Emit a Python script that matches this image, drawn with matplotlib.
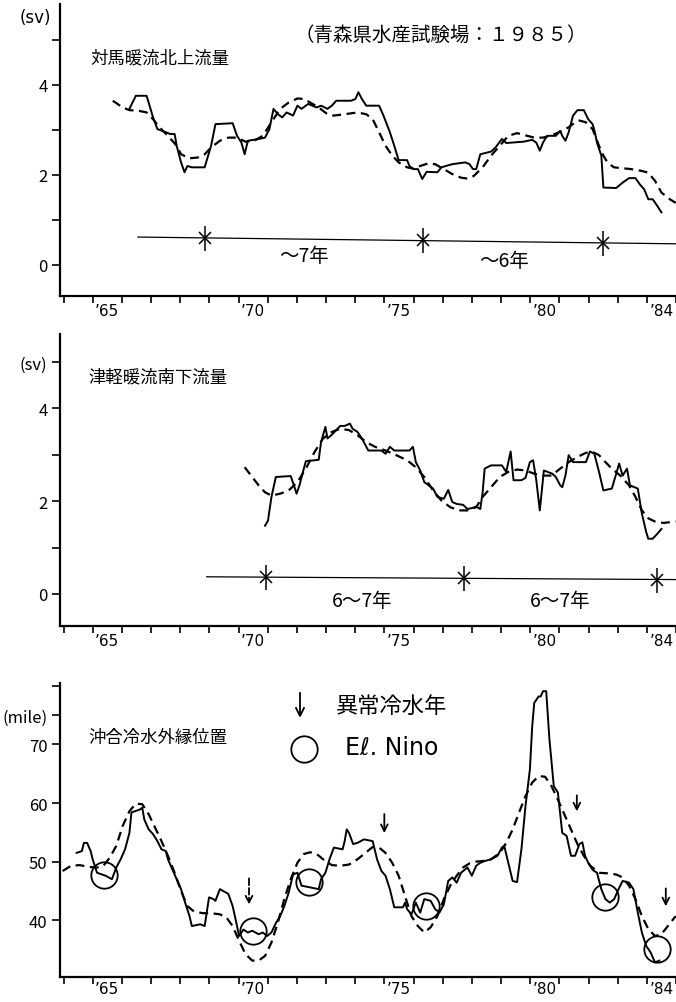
import matplotlib
matplotlib.use("Agg")
import matplotlib.pyplot as plt
from matplotlib.lines import Line2D

plt.rcParams['font.family'] = ['Noto Sans CJK JP', 'DejaVu Sans']

# ---- data (year, value) ----
# panel 1 : Tsushima warm current northward transport (sv)
tsu_year = [1966.26, 1966.48, 1966.85, 1967.07, 1967.22, 1967.51, 1967.66, 1967.81, 1967.88, 1968.03,
            1968.15, 1968.25, 1968.40, 1968.84, 1969.06, 1969.21, 1969.80, 1969.95, 1970.10, 1970.21,
            1970.32, 1970.69, 1970.91, 1971.06, 1971.20, 1971.35, 1971.50, 1971.65, 1971.87, 1972.02,
            1972.16, 1972.39, 1972.68, 1972.83, 1973.05, 1973.20, 1973.35, 1973.86, 1974.01, 1974.11,
            1974.23, 1974.38, 1974.82, 1974.97, 1975.19, 1975.34, 1975.49, 1975.78, 1975.86, 1976.00,
            1976.15, 1976.30, 1976.45, 1976.82, 1976.96, 1977.11, 1977.33, 1977.78, 1977.92, 1978.04,
            1978.15, 1978.29, 1978.66, 1978.81, 1979.03, 1979.18, 1979.77, 1980.07, 1980.21, 1980.33,
            1980.44, 1980.58, 1980.88, 1981.03, 1981.10, 1981.21, 1981.32, 1981.47, 1981.62, 1981.84,
            1981.99, 1982.14, 1982.22, 1982.29, 1982.44, 1982.51, 1982.95, 1983.17, 1983.39, 1983.61,
            1983.76, 1983.91, 1984.05, 1984.20, 1984.32, 1984.50]
tsu_val = [3.47, 3.76, 3.76, 3.28, 3.02, 2.95, 2.91, 2.91, 2.65, 2.28,
           2.06, 2.20, 2.17, 2.17, 2.65, 3.13, 3.15, 2.87, 2.72, 2.46,
           2.76, 2.80, 2.83, 3.02, 3.47, 3.35, 3.28, 3.39, 3.32, 3.54,
           3.47, 3.58, 3.50, 3.54, 3.47, 3.54, 3.65, 3.65, 3.69, 3.84,
           3.69, 3.54, 3.54, 3.32, 2.95, 2.65, 2.33, 2.33, 2.20, 2.13,
           2.13, 1.91, 2.07, 2.06, 2.17, 2.20, 2.24, 2.28, 2.24, 2.13,
           2.13, 2.46, 2.52, 2.61, 2.80, 2.71, 2.74, 2.78, 2.72, 2.54,
           2.72, 2.87, 2.87, 2.98, 2.87, 2.76, 2.95, 3.32, 3.44, 3.44,
           3.24, 3.13, 2.95, 2.72, 2.43, 1.72, 1.71, 1.83, 1.93, 1.93,
           1.79, 1.68, 1.46, 1.46, 1.35, 1.17]
tsu_sm_year = [1965.69, 1966.03, 1966.26, 1966.55, 1966.85, 1967.07, 1967.29, 1967.58, 1967.88, 1968.03,
               1968.32, 1968.62, 1968.84, 1969.06, 1969.36, 1969.65, 1969.95, 1970.24, 1970.54, 1970.83,
               1971.13, 1971.43, 1971.72, 1972.02, 1972.24, 1972.46, 1972.75, 1973.05, 1973.27, 1973.64,
               1974.08, 1974.38, 1974.60, 1974.82, 1975.04, 1975.27, 1975.49, 1975.78, 1976.00, 1976.23,
               1976.52, 1976.74, 1977.04, 1977.33, 1977.63, 1977.85, 1978.07, 1978.37, 1978.66, 1978.96,
               1979.25, 1979.55, 1979.84, 1980.14, 1980.44, 1980.73, 1981.03, 1981.32, 1981.54, 1981.69,
               1981.91, 1982.14, 1982.36, 1982.51, 1982.65, 1982.87, 1983.17, 1983.46, 1983.83, 1984.05,
               1984.28, 1984.50, 1984.79, 1984.99]
tsu_sm_val = [3.65, 3.50, 3.44, 3.43, 3.39, 3.24, 3.06, 2.87, 2.65, 2.46,
              2.37, 2.39, 2.46, 2.61, 2.76, 2.83, 2.83, 2.74, 2.76, 2.87,
              3.17, 3.47, 3.61, 3.70, 3.69, 3.61, 3.50, 3.35, 3.32, 3.35,
              3.39, 3.35, 3.24, 2.95, 2.65, 2.43, 2.28, 2.17, 2.14, 2.20,
              2.26, 2.24, 2.13, 2.02, 1.94, 1.92, 1.98, 2.17, 2.43, 2.65,
              2.87, 2.93, 2.88, 2.83, 2.83, 2.88, 2.96, 3.06, 3.17, 3.21,
              3.17, 3.02, 2.65, 2.43, 2.28, 2.17, 2.15, 2.13, 2.09, 2.05,
              1.87, 1.61, 1.46, 1.38]
tsu_period_line = ([1966.55, 1985.0], [0.62, 0.47])
tsu_peaks = ([1968.86, 1976.34, 1982.50], [0.60, 0.55, 0.49])
tsu_period_text = [("～7年", 1972.24, 0.20), ("～6年", 1979.11, 0.09)]

# panel 2 : Tsugaru warm current southward transport (sv)
tsg_year = [1970.91, 1971.01, 1971.13, 1971.28, 1971.79, 1971.90, 1971.99, 1972.09, 1972.24, 1972.31,
            1972.75, 1972.83, 1972.98, 1973.05, 1973.20, 1973.35, 1973.49, 1973.64, 1973.82, 1973.91,
            1974.08, 1974.23, 1974.45, 1974.90, 1975.04, 1975.19, 1975.34, 1975.86, 1975.98, 1976.08,
            1976.23, 1976.37, 1976.52, 1976.67, 1976.82, 1977.04, 1977.19, 1977.33, 1977.48, 1977.70,
            1977.85, 1978.00, 1978.15, 1978.29, 1978.37, 1978.44, 1978.66, 1979.03, 1979.18, 1979.33,
            1979.43, 1979.70, 1979.84, 1979.99, 1980.10, 1980.21, 1980.33, 1980.47, 1980.76, 1980.88,
            1981.03, 1981.10, 1981.21, 1981.32, 1981.47, 1981.91, 1982.05, 1982.20, 1982.36, 1982.51,
            1982.80, 1982.95, 1983.05, 1983.17, 1983.32, 1983.42, 1983.69, 1983.83, 1983.98, 1984.05,
            1984.20, 1984.35, 1984.50]
tsg_val = [1.47, 1.58, 2.09, 2.52, 2.54, 2.34, 2.16, 2.34, 2.70, 2.86,
           2.89, 3.27, 3.60, 3.35, 3.43, 3.53, 3.62, 3.62, 3.67, 3.56,
           3.49, 3.35, 3.09, 3.09, 3.02, 3.17, 3.09, 3.09, 3.17, 2.84,
           2.66, 2.41, 2.34, 2.27, 2.09, 2.05, 2.24, 1.98, 1.94, 1.92,
           1.83, 1.85, 1.88, 1.83, 2.19, 2.70, 2.77, 2.77, 2.63, 3.07,
           2.45, 2.45, 2.50, 2.84, 2.88, 2.45, 1.80, 2.66, 2.59, 2.52,
           2.34, 2.30, 2.55, 2.99, 2.84, 2.84, 3.07, 3.02, 2.63, 2.23,
           2.27, 2.59, 2.81, 2.55, 2.70, 2.34, 2.27, 1.73, 1.33, 1.19,
           1.19, 1.29, 1.40]
tsg_sm_year = [1970.21, 1970.47, 1970.69, 1970.91, 1971.13, 1971.43, 1971.72, 1972.02, 1972.31, 1972.61,
               1972.90, 1973.20, 1973.49, 1973.79, 1974.08, 1974.38, 1974.68, 1975.04, 1975.41, 1975.78,
               1976.08, 1976.37, 1976.67, 1976.96, 1977.26, 1977.56, 1977.85, 1978.15, 1978.37, 1978.66,
               1978.96, 1979.25, 1979.55, 1979.84, 1980.14, 1980.44, 1980.73, 1981.03, 1981.32, 1981.62,
               1981.91, 1982.14, 1982.36, 1982.58, 1982.80, 1983.09, 1983.39, 1983.61, 1983.83, 1984.05,
               1984.28, 1984.57, 1984.99]
tsg_sm_val = [2.73, 2.52, 2.34, 2.19, 2.12, 2.16, 2.23, 2.41, 2.70, 3.06,
              3.35, 3.49, 3.56, 3.53, 3.42, 3.27, 3.17, 3.09, 2.99, 2.88,
              2.73, 2.52, 2.23, 2.01, 1.87, 1.80, 1.80, 1.87, 2.09, 2.30,
              2.52, 2.63, 2.68, 2.66, 2.59, 2.55, 2.55, 2.70, 2.84, 2.95,
              3.04, 3.06, 2.99, 2.84, 2.70, 2.55, 2.34, 2.09, 1.80, 1.63,
              1.56, 1.53, 1.56]
tsg_period_line = ([1968.91, 1985.0], [0.37, 0.31])
tsg_peaks = ([1970.94, 1977.73, 1984.35], [0.36, 0.34, 0.31])
tsg_period_text = [("6～7年", 1974.23, -0.14), ("6～7年", 1981.03, -0.14)]

# panel 3 : offshore cold water outer edge position (mile)
cold_year = [1964.45, 1964.63, 1964.70, 1964.81, 1964.93, 1965.00, 1965.15, 1965.44, 1965.66, 1965.81,
             1965.96, 1966.11, 1966.26, 1966.33, 1966.62, 1966.70, 1966.77, 1966.92, 1967.07, 1967.22,
             1967.36, 1967.51, 1967.58, 1967.73, 1967.88, 1968.03, 1968.17, 1968.32, 1968.40, 1968.69,
             1968.84, 1968.99, 1969.14, 1969.21, 1969.36, 1969.65, 1969.80, 1969.95, 1970.02, 1970.17,
             1970.32, 1970.47, 1970.69, 1970.83, 1970.98, 1971.13, 1971.28, 1971.43, 1971.57, 1971.72,
             1971.87, 1972.02, 1972.16, 1972.75, 1972.83, 1972.98, 1973.12, 1973.27, 1973.57, 1973.64,
             1973.71, 1973.79, 1973.93, 1974.08, 1974.30, 1974.60, 1974.75, 1974.90, 1975.04, 1975.19,
             1975.34, 1975.64, 1975.71, 1975.78, 1975.93, 1976.08, 1976.23, 1976.37, 1976.59, 1976.74,
             1976.89, 1977.04, 1977.19, 1977.33, 1977.48, 1977.63, 1977.85, 1978.00, 1978.15, 1978.29,
             1978.44, 1978.66, 1978.88, 1979.03, 1979.11, 1979.25, 1979.40, 1979.55, 1979.70, 1979.84,
             1979.99, 1980.07, 1980.14, 1980.29, 1980.36, 1980.44, 1980.55, 1980.66, 1980.81, 1980.95,
             1981.10, 1981.25, 1981.40, 1981.54, 1981.69, 1981.79, 1981.88, 1981.99, 1982.14, 1982.29,
             1982.44, 1982.58, 1982.73, 1982.88, 1983.03, 1983.17, 1983.39, 1983.54, 1983.69, 1983.83,
             1983.98, 1984.13, 1984.28, 1984.43]
cold_val = [51.5, 51.8, 53.2, 53.2, 51.8, 50.4, 48.1, 47.6, 47.0, 49.0,
            50.4, 52.1, 54.9, 58.4, 58.9, 59.2, 57.2, 55.5, 54.7, 53.5,
            52.1, 51.8, 50.4, 48.7, 47.0, 45.3, 43.0, 40.7, 39.0, 39.3,
            39.0, 43.9, 43.6, 43.3, 45.3, 44.5, 42.4, 39.0, 37.3, 38.4,
            37.9, 38.2, 37.6, 37.9, 37.3, 37.9, 39.5, 40.7, 42.4, 44.7,
            47.8, 48.1, 45.9, 45.3, 47.0, 48.1, 50.4, 52.4, 52.1, 53.5,
            55.5, 54.9, 53.0, 53.2, 53.8, 53.5, 50.4, 48.4, 47.6, 45.3,
            42.2, 42.2, 43.0, 41.9, 41.0, 43.0, 41.3, 43.6, 43.3, 41.9,
            41.3, 42.7, 46.7, 47.3, 46.4, 48.1, 49.0, 47.6, 49.3, 49.8,
            50.1, 50.4, 51.0, 52.4, 52.7, 49.8, 46.7, 46.5, 52.1, 59.5,
            65.7, 73.1, 77.1, 78.2, 78.2, 79.1, 79.1, 70.9, 62.9, 61.8,
            54.9, 54.4, 51.0, 51.0, 53.0, 53.3, 51.0, 49.8, 48.6, 48.1,
            45.3, 43.6, 43.0, 43.6, 45.3, 46.7, 46.4, 45.3, 41.3, 37.9,
            35.6, 34.5, 32.8, 33.1]
cold_sm_year = [1963.97, 1964.26, 1964.56, 1964.85, 1965.15, 1965.37, 1965.59, 1965.81, 1966.03, 1966.26,
                1966.48, 1966.70, 1966.92, 1967.14, 1967.36, 1967.58, 1967.81, 1968.03, 1968.25, 1968.47,
                1968.77, 1969.06, 1969.36, 1969.58, 1969.80, 1970.02, 1970.24, 1970.47, 1970.69, 1970.91,
                1971.13, 1971.35, 1971.57, 1971.79, 1972.02, 1972.24, 1972.46, 1972.68, 1972.90, 1973.20,
                1973.49, 1973.79, 1974.08, 1974.38, 1974.60, 1974.82, 1975.04, 1975.27, 1975.49, 1975.71,
                1975.93, 1976.15, 1976.37, 1976.59, 1976.82, 1977.04, 1977.26, 1977.48, 1977.70, 1977.92,
                1978.15, 1978.37, 1978.66, 1978.96, 1979.18, 1979.40, 1979.62, 1979.84, 1980.07, 1980.29,
                1980.51, 1980.73, 1980.95, 1981.17, 1981.40, 1981.62, 1981.84, 1982.06, 1982.36, 1982.65,
                1982.95, 1983.17, 1983.39, 1983.61, 1983.83, 1984.05, 1984.28, 1984.50, 1984.72, 1984.99]
cold_sm_val = [48.4, 49.3, 49.4, 49.1, 49.0, 49.3, 50.7, 52.7, 56.1, 58.6,
               59.9, 59.8, 58.1, 55.8, 53.5, 51.0, 48.1, 45.0, 42.4, 41.5,
               41.2, 41.2, 41.0, 40.5, 39.0, 36.5, 34.2, 33.1, 33.1, 33.9,
               36.2, 39.6, 43.6, 47.0, 49.8, 51.3, 51.6, 51.3, 50.4, 49.4,
               49.3, 49.5, 50.4, 51.6, 52.5, 52.4, 51.5, 49.8, 47.6, 44.1,
               40.7, 39.0, 37.9, 38.8, 40.7, 43.6, 45.9, 47.6, 49.0, 49.7,
               50.0, 50.1, 50.4, 51.5, 53.2, 55.5, 58.4, 61.2, 63.5, 64.6,
               64.5, 62.9, 60.6, 58.1, 55.5, 53.0, 51.0, 49.3, 48.1, 48.0,
               47.8, 47.3, 45.9, 43.6, 40.7, 38.5, 37.3, 37.6, 39.0, 40.7]
nino_year = [1965.38, 1970.51, 1972.43, 1976.42, 1982.55, 1984.35]
nino_val = [47.7, 38.2, 46.5, 42.4, 44.0, 35.1]
cold_yr_year = [1970.36, 1975.0, 1981.6, 1984.65]
cold_yr_tail = [47.6, 58.6, 61.8, 45.9]
cold_yr_tip = [42.2, 54.4, 58.1, 41.9]
cold_yr_dashed = [True, False, False, False]

tick_years = ['65', '70', '75', '80', '84']
tick_pos = [1965.5, 1970.5, 1975.5, 1980.5, 1984.5]

W, H = 676, 1003
fig = plt.figure(figsize=(W / 100, H / 100), dpi=100)


def px(x, y):
    return x / W, 1 - y / H


def make_axes(top, bottom, ylim):
    ax = fig.add_axes([60 / W, 1 - bottom / H, (W - 60) / W, (bottom - top) / H])
    ax.set_xlim(1963.88, 1985.0)
    ax.set_ylim(*ylim)
    for s in ['top', 'right']:
        ax.spines[s].set_visible(False)
    for s in ['left', 'bottom']:
        ax.spines[s].set_linewidth(1.6)
    ax.set_xticks(range(1964, 1986))
    ax.set_xticklabels([])
    ax.set_xticks(tick_pos, minor=True)
    ax.set_xticklabels(["’" + t for t in tick_years], minor=True, fontsize=11, family='DejaVu Sans')
    ax.tick_params(axis='x', which='major', direction='out', length=5, width=1.2)
    ax.tick_params(axis='x', which='minor', length=0, pad=5)
    ax.tick_params(axis='y', direction='out', length=6, width=1.2, labelsize=12, pad=3)
    return ax


ln = dict(color='black', lw=1.4)
dash = dict(color='black', lw=1.6, ls=(0, (4, 2.5)))

# ---- panel 1 ----
ax1 = make_axes(5, 297, (-0.69, 5.8))
ax1.set_yticks([0, 1, 2, 3, 4, 5])
ax1.set_yticklabels(['0', '', '2', '', '4', ''])
ax1.plot(tsu_year, tsu_val, **ln)
ax1.plot(tsu_sm_year, tsu_sm_val, **dash)
ax1.plot(*tsu_period_line, color='black', lw=0.9)
ax1.plot(*tsu_peaks, ls='none', marker='|', ms=18, mew=1.1, color='black')
ax1.plot(*tsu_peaks, ls='none', marker='x', ms=8, mew=1.1, color='black')
for t, x, y in tsu_period_text:
    ax1.text(x, y, t, ha='center', va='center', fontsize=14)
fig.text(*px(35, 18), '(sv)', ha='center', va='center', fontsize=12, family='DejaVu Sans')
fig.text(*px(441, 35), '（青森県水産試験場：１９８５）', ha='center', va='center', fontsize=14)
fig.text(*px(90, 58), '対馬暖流北上流量', ha='left', va='center', fontsize=12.5)

# ---- panel 2 ----
ax2 = make_axes(335, 627, (-0.69, 5.6))
ax2.set_yticks([0, 1, 2, 3, 4, 5])
ax2.set_yticklabels(['0', '', '2', '', '4', '(sv)'])
ax2.plot(tsg_year, tsg_val, **ln)
ax2.plot(tsg_sm_year, tsg_sm_val, **dash)
ax2.plot(*tsg_period_line, color='black', lw=0.9)
ax2.plot(*tsg_peaks, ls='none', marker='|', ms=18, mew=1.1, color='black')
ax2.plot(*tsg_peaks, ls='none', marker='x', ms=8, mew=1.1, color='black')
for t, x, y in tsg_period_text:
    ax2.text(x, y, t, ha='center', va='center', fontsize=14)
fig.text(*px(88, 377), '津軽暖流南下流量', ha='left', va='center', fontsize=12.5)

# ---- panel 3 ----
ax3 = make_axes(684, 978, (30.3, 80.5))
ax3.set_yticks([40, 50, 60, 70, 75, 80])
ax3.set_yticklabels(['40', '50', '60', '70', '(mile)', ''])
ax3.tick_params(axis='x', which='minor', pad=3)
ax3.plot(cold_year, cold_val, **ln)
ax3.plot(cold_sm_year, cold_sm_val, **dash)
ax3.plot(nino_year, nino_val, ls='none', marker='o', ms=19, mfc='none', mec='black', mew=1.3)
for x, t0, t1, d in zip(cold_yr_year, cold_yr_tail, cold_yr_tip, cold_yr_dashed):
    ax3.annotate('', xy=(x, t1), xytext=(x, t0),
                 arrowprops=dict(arrowstyle='->', color='black', lw=1.3,
                                 ls='--' if d else '-', mutation_scale=12))
fig.text(*px(88, 738), '沖合冷水外縁位置', ha='left', va='center', fontsize=12.5)

# legend of panel 3
fig.add_artist(Line2D([300 / W, 300 / W], [1 - 694 / H, 1 - 716 / H], color='black', lw=1.3))
fig.add_artist(Line2D([296 / W, 300 / W, 304 / W], [1 - 709 / H, 1 - 717 / H, 1 - 709 / H],
                      color='black', lw=1.3))
fig.text(*px(336, 706), '異常冷水年', ha='left', va='center', fontsize=16)
fig.add_artist(Line2D([304 / W], [1 - 750 / H], marker='o', ms=19, mfc='none', mec='black', mew=1.3))
fig.text(*px(345, 748), 'Eℓ. Nino', ha='left', va='center', fontsize=17, family='DejaVu Sans')

fig.savefig('out.png', dpi=100)
